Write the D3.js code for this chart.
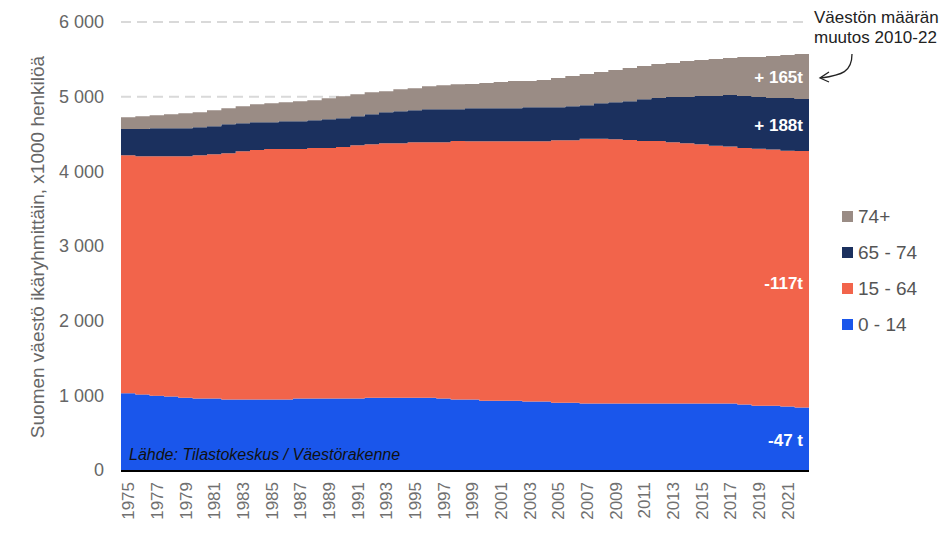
<!DOCTYPE html>
<html>
<head>
<meta charset="utf-8">
<script src="https://cdn.jsdelivr.net/npm/d3@7"></script>
<style>
  body { margin: 0; background: #fff; }
  svg { display: block; font-family: "Liberation Sans", Arial, sans-serif; }
</style>
</head>
<body>
<script>
const w = 944;
const h = 540;
const m = { top: 22, right: 135, bottom: 70, left: 121 };

const years = d3.range(1975, 2023);
const age0_14 = [1027, 1010, 996, 983, 969, 956, 956, 943, 943, 943, 943, 943, 956, 956, 956, 956,
	956, 969, 969, 969, 969, 969, 956, 943, 943, 929, 929, 929, 916, 916, 902, 902,
	889, 889, 889, 889, 889, 889, 889, 889, 889, 889, 889, 876, 862, 862, 849, 836];
const age15_64 = [3187, 3191, 3205, 3218, 3232, 3258, 3272, 3298, 3325, 3342, 3356, 3356, 3343, 3356, 3356, 3370,
	3392, 3393, 3406, 3406, 3419, 3419, 3432, 3463, 3459, 3473, 3473, 3473, 3486, 3486, 3513, 3513,
	3549, 3549, 3540, 3531, 3517, 3517, 3499, 3486, 3473, 3455, 3442, 3437, 3442, 3429, 3428, 3436];
const age65_74 = [353, 366, 375, 375, 375, 376, 375, 389, 375, 372, 358, 371, 371, 371, 385, 384,
	389, 402, 416, 429, 430, 443, 443, 425, 443, 443, 443, 443, 456, 456, 443, 456,
	447, 473, 496, 518, 559, 577, 608, 621, 647, 665, 692, 696, 692, 692, 706, 697];
const age75 = [156, 170, 174, 188, 201, 201, 215, 214, 228, 241, 254, 255, 268, 269, 282, 295,
	295, 295, 281, 295, 294, 308, 321, 335, 326, 339, 352, 366, 353, 366, 393, 407,
	419, 420, 433, 447, 447, 455, 456, 483, 483, 497, 496, 523, 536, 563, 576, 603];

const groups = ['0 - 14', '15 - 64', '65 - 74', '74+'];
const colors = ['#1a56eb', '#f2644b', '#1b305e', '#9a8c85'];
const changes = ['-47 t', '-117t', '+ 188t', '+ 165t'];
const yTicks = [0, 1000, 2000, 3000, 4000, 5000, 6000];

const rows = years.map((y, i) => ({
	year: y,
	'0 - 14': age0_14[i],
	'15 - 64': age15_64[i],
	'65 - 74': age65_74[i],
	'74+': age75[i]
}));

const svg = d3.select('body').append('svg')
	.attr('width', w)
	.attr('height', h);

const x = d3.scaleBand()
	.domain(years)
	.range([m.left, w - m.right])
	.padding(0);

const y = d3.scaleLinear()
	.domain([0, 6000])
	.range([h - m.bottom, m.top]);

// gridlines
svg.append('g')
	.selectAll('line')
	.data(yTicks.filter(d => d > 0))
	.enter()
	.append('line')
	.attr('x1', m.left)
	.attr('x2', w - m.right)
	.attr('y1', d => y(d))
	.attr('y2', d => y(d))
	.attr('stroke', '#d9d9d9')
	.attr('stroke-width', 2)
	.attr('stroke-dasharray', '10,6');

const stack = d3.stack().keys(groups);
const series = stack(rows);

// step areas: each year covers its band
const xEnd = x(years[years.length - 1]) + x.bandwidth();
const area = d3.area()
	.curve(d3.curveStepAfter)
	.x((d, i) => i < rows.length ? x(rows[i].year) : xEnd)
	.y0(d => y(d[0]))
	.y1(d => y(d[1]));

svg.append('g')
	.selectAll('path')
	.data(series)
	.enter()
	.append('path')
	.attr('fill', (d, i) => colors[i])
	.attr('d', d => area([...d, d[d.length - 1]]));

// baseline
svg.append('line')
	.attr('x1', m.left)
	.attr('x2', w - m.right)
	.attr('y1', y(0) + 1)
	.attr('y2', y(0) + 1)
	.attr('stroke', '#000')
	.attr('stroke-width', 2);

// y axis
const fmt = d => d3.format(',')(d).replace(',', ' ');
const yAxis = svg.append('g')
	.attr('transform', `translate(${m.left - 17},0)`)
	.call(d3.axisLeft(y).tickValues(yTicks).tickFormat(fmt).tickSize(0));
yAxis.select('.domain').remove();
yAxis.selectAll('text')
	.attr('x', 0)
	.attr('fill', '#666')
	.style('font-size', '18px');

// x axis
const xAxis = svg.append('g')
	.attr('transform', `translate(0,${y(0) + 12})`)
	.call(d3.axisBottom(x).tickValues(years.filter(d => d % 2 === 1)).tickSize(0));
xAxis.select('.domain').remove();
xAxis.selectAll('text')
	.attr('transform', 'rotate(-90)')
	.attr('x', 0)
	.attr('y', 0)
	.attr('dy', '0.36em')
	.attr('text-anchor', 'end')
	.attr('fill', '#707070')
	.style('font-size', '17px');

// y title
svg.append('text')
	.attr('transform', `translate(44,247) rotate(-90)`)
	.attr('text-anchor', 'middle')
	.attr('fill', '#666')
	.style('font-size', '19px')
	.text('Suomen väestö ikäryhmittäin, x1000 henkilöä');

// change labels inside areas
const last = series.map(s => s[s.length - 1]);
const labelVal = [last[0][0] + 410, last[1][0] + 1675, (last[2][0] + last[2][1]) / 2, (last[3][0] + last[3][1]) / 2];
svg.append('g')
	.selectAll('text')
	.data(changes)
	.enter()
	.append('text')
	.attr('x', xEnd - 6)
	.attr('y', (d, i) => y(labelVal[i]))
	.attr('dy', '0.36em')
	.attr('text-anchor', 'end')
	.attr('fill', '#fff')
	.style('font-size', '17px')
	.style('font-weight', 'bold')
	.text(d => d);

// source
svg.append('text')
	.attr('x', m.left + 8)
	.attr('y', y(0) - 10)
	.attr('fill', '#111')
	.style('font-size', '16px')
	.style('font-style', 'italic')
	.text('Lähde: Tilastokeskus / Väestörakenne');

// annotation
const note = svg.append('text')
	.attr('x', 814)
	.attr('y', 23)
	.attr('fill', '#222')
	.style('font-size', '17px');
note.append('tspan').attr('x', 814).text('Väestön määrän');
note.append('tspan').attr('x', 814).attr('dy', 20).text('muutos 2010-22');

svg.append('path')
	.attr('d', 'M852,54 C852,72 842,75 821,78')
	.attr('fill', 'none')
	.attr('stroke', '#222')
	.attr('stroke-width', 1.3);
svg.append('path')
	.attr('d', 'M829,72 L820,78 L829,82')
	.attr('fill', 'none')
	.attr('stroke', '#222')
	.attr('stroke-width', 1.3);

// legend
const legend = svg.append('g')
	.selectAll('g')
	.data(groups.slice().reverse())
	.enter()
	.append('g')
	.attr('transform', (d, i) => `translate(842,${216 + i * 36})`);
legend.append('rect')
	.attr('x', 0)
	.attr('y', -5)
	.attr('width', 11)
	.attr('height', 11)
	.attr('fill', d => colors[groups.indexOf(d)]);
legend.append('text')
	.attr('x', 16)
	.attr('dy', '0.36em')
	.attr('fill', '#555')
	.style('font-size', '19px')
	.text(d => d);
</script>
</body>
</html>
